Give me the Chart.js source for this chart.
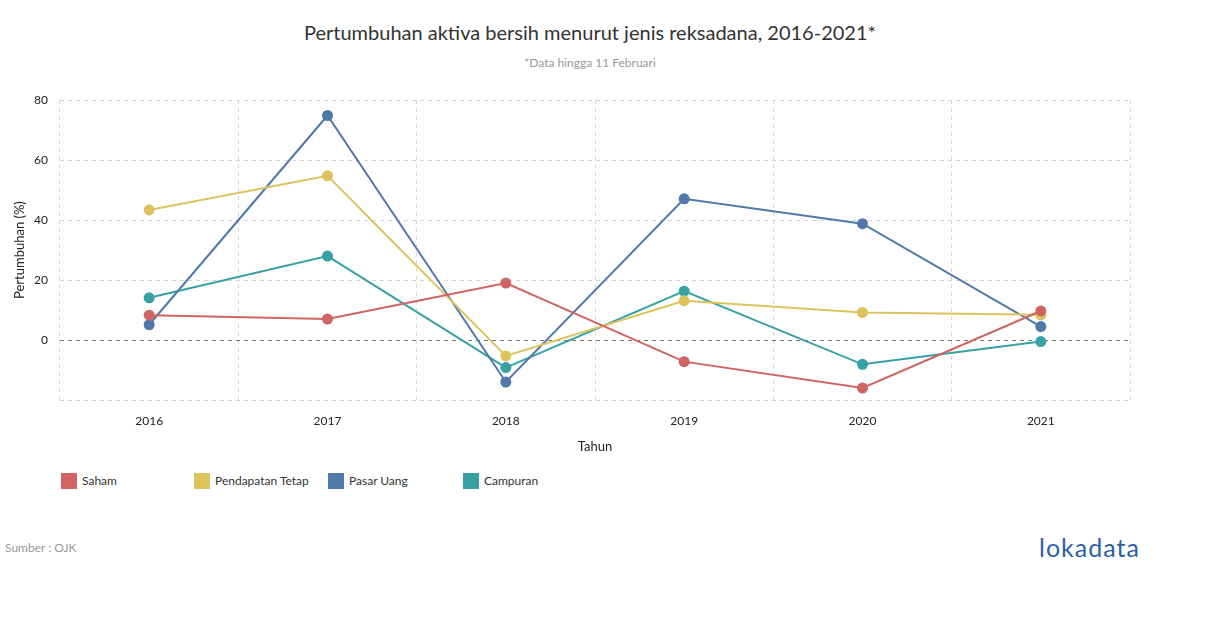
<!DOCTYPE html>
<html>
<head>
<meta charset="utf-8">
<script src="https://cdn.jsdelivr.net/npm/chart.js@4"></script>
<style>
  body { margin: 0; width: 1210px; height: 628px; background: #fff; font-family: Lato, sans-serif; position: relative; overflow: hidden; }
  #title { position: absolute; top: 20px; left: 0; width: 1180px; text-align: center; font-size: 20px; color: #333; }
  #subtitle { position: absolute; top: 55px; left: 0; width: 1180px; text-align: center; font-size: 12px; color: #999; }
  #wrap { position: absolute; left: 0; top: 81px; width: 1210px; height: 389px; }
  #legend { position: absolute; top: 472px; left: 61px; font-size: 12px; color: #333; }
  .item { position: absolute; top: 0; white-space: nowrap; }
  .sw { display: inline-block; width: 16px; height: 16px; vertical-align: middle; margin-right: 5px; }
  .item span.t { vertical-align: middle; }
  #source { position: absolute; left: 5px; top: 540px; font-size: 12px; color: #999; }
  #logo { position: absolute; left: 1039px; top: 532px; font-size: 25px; color: #2d5fa6; letter-spacing: 1px; }
</style>
</head>
<body>
<div id="title">Pertumbuhan aktiva bersih menurut jenis reksadana, 2016-2021*</div>
<div id="subtitle">*Data hingga 11 Februari</div>
<div id="wrap"><canvas id="chart"></canvas></div>
<div id="legend"></div>
<div id="source">Sumber : OJK</div>
<div id="logo">lokadata</div>
<script>
// Data
var years = ['2016', '2017', '2018', '2019', '2020', '2021'];
var saham = [8.3, 7, 19, -7.2, -16, 9.7];
var pendapatanTetap = [43.4, 54.8, -5.3, 13.1, 9.2, 8.4];
var pasarUang = [5.1, 74.9, -14, 47.1, 38.8, 4.5];
var campuran = [14.1, 28, -9.2, 16.3, -8.1, -0.5];

var seriesNames = ['Saham', 'Pendapatan Tetap', 'Pasar Uang', 'Campuran'];
var seriesData = [saham, pendapatanTetap, pasarUang, campuran];
var colors = ['#cf6462', '#ddc35c', '#5079a9', '#37a2a4'];

var datasets = seriesData.map(function (d, i) {
  return {
    label: seriesNames[i],
    data: d,
    borderColor: colors[i],
    backgroundColor: colors[i],
    pointBackgroundColor: colors[i],
    pointBorderWidth: 0,
    pointRadius: 5.5,
    borderWidth: 2,
    tension: 0
  };
});

var ctx = document.getElementById('chart').getContext('2d');
var chart = new Chart(ctx, {
  type: 'line',
  data: { labels: years, datasets: datasets },
  options: {
    responsive: true,
    maintainAspectRatio: false,
    animation: false,
    layout: { padding: { left: 0, right: 80, top: 10, bottom: 0 } },
    plugins: { legend: { display: false }, tooltip: { enabled: false } },
    scales: {
      x: {
        offset: true,
        grid: { offset: true, color: '#d6d6d6', drawTicks: false },
        border: { display: false, dash: [4, 4] },
        ticks: { padding: 14, color: '#222', font: { family: 'Lato', size: 12 } },
        title: { display: true, text: 'Tahun', color: '#222', font: { family: 'Lato', size: 13 }, padding: { bottom: 15 } },
        afterFit: function (s) { s.height = 70; }
      },
      y: {
        min: -20,
        max: 80,
        ticks: {
          stepSize: 20,
          padding: 12,
          color: '#222',
          font: { family: 'Lato', size: 12 },
          callback: function (v) { return v === -20 ? '' : v; }
        },
        grid: {
          drawTicks: false,
          color: function (c) { return c.tick && c.tick.value === 0 ? '#777' : '#d6d6d6'; }
        },
        border: { display: false, dash: [4, 4] },
        title: { display: true, text: 'Pertumbuhan (%)', color: '#222', font: { family: 'Lato', size: 13 }, padding: { top: 12 } },
        afterFit: function (s) { s.width = 60; }
      }
    }
  }
});

// HTML legend
var legend = document.getElementById('legend');
var legendX = [0, 133, 267, 402];
seriesNames.forEach(function (n, i) {
  var el = document.createElement('div');
  el.className = 'item';
  el.style.left = legendX[i] + 'px';
  el.innerHTML = '<span class="sw" style="background:' + colors[i] + '"></span><span class="t">' + n + '</span>';
  legend.appendChild(el);
});
</script>
</body>
</html>
